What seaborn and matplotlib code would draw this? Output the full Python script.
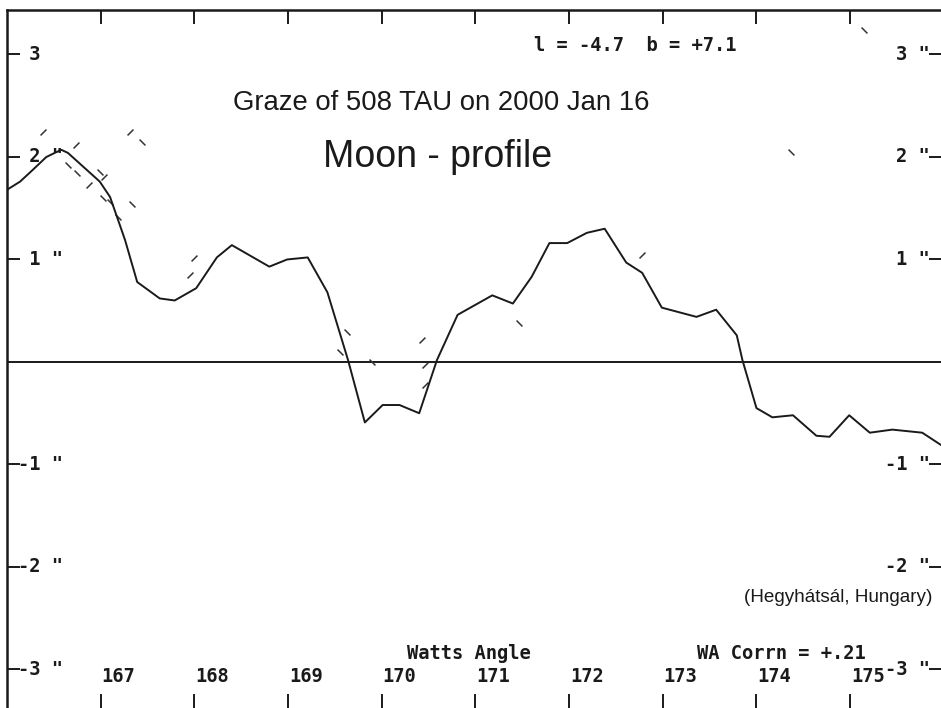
import matplotlib
matplotlib.use("Agg")
import matplotlib.pyplot as plt
import seaborn as sns

# profile of the lunar limb (Watts angle vs height in arcsec)
wa = [166.00, 166.14, 166.27, 166.42, 166.51, 166.58, 166.65, 166.99, 167.10, 167.26,
      167.39, 167.63, 167.79, 168.02, 168.24, 168.40, 168.80, 168.99, 169.21, 169.42,
      169.64, 169.82, 170.01, 170.19, 170.40, 170.59, 170.81, 171.18, 171.40, 171.60,
      171.79, 171.98, 172.19, 172.38, 172.54, 172.61, 172.78, 172.99, 173.36, 173.57,
      173.79, 173.85, 174.00, 174.17, 174.39, 174.64, 174.78, 174.99, 175.21, 175.45,
      175.77, 175.97]
profile = [1.68, 1.76, 1.87, 2.00, 2.04, 2.07, 2.04, 1.76, 1.61, 1.19,
           0.78, 0.62, 0.60, 0.72, 1.02, 1.14, 0.93, 1.00, 1.02, 0.68,
           0.02, -0.59, -0.42, -0.42, -0.50, 0.02, 0.46, 0.65, 0.57, 0.83,
           1.16, 1.16, 1.26, 1.30, 1.07, 0.97, 0.87, 0.53, 0.44, 0.51,
           0.26, 0.02, -0.45, -0.54, -0.52, -0.72, -0.73, -0.52, -0.69, -0.66,
           -0.69, -0.81]

# observer timings, drawn as little dashes
obs_up_wa = [166.38, 167.31, 166.74, 167.04, 166.87, 168.00, 167.95, 170.43, 170.46, 170.46, 172.78]
obs_up_h = [2.24, 2.24, 2.12, 1.80, 1.73, 1.01, 0.85, 0.21, -0.03, -0.22, 1.04]
obs_dn_wa = [167.44, 166.65, 166.75, 166.99, 167.02, 167.10, 167.33, 167.18, 169.63, 169.55,
             169.90, 171.47, 175.15, 174.37]
obs_dn_h = [2.15, 1.92, 1.84, 1.85, 1.60, 1.56, 1.54, 1.41, 0.29, 0.10,
            0.00, 0.38, 3.24, 2.05]

x_ticks = [167, 168, 169, 170, 171, 172, 173, 174, 175]
y_ticks = [3, 2, 1, -1, -2, -3]
left_labels = [' 3', ' 2 "', ' 1 "', '-1 "', '-2 "', '-3 "']
right_labels = ['3 "', '2 "', '1 "', '-1 "', '-2 "', '-3 "']

sns.set_style("white")
plt.rcParams['font.family'] = ['Liberation Sans', 'DejaVu Sans']
ink = '#1a1a1a'
mono = dict(family='DejaVu Sans Mono', fontweight='bold', fontsize=13.5, color=ink)

fig = plt.figure(figsize=(9.41, 7.08), dpi=100)
ax = fig.add_axes([7 / 941, 0, 1 - 7 / 941, 1 - 10 / 708])
ax.set_xlim(166.0, 175.97)
ax.set_ylim(-3.376, 3.434)

ax.axhline(0, color=ink, lw=1.4, zorder=1)
sns.lineplot(x=wa, y=profile, ax=ax, estimator=None, sort=False, color=ink, lw=1.4)
sns.scatterplot(x=obs_up_wa, y=obs_up_h, ax=ax, marker=[(-1, -1), (1, 1)], s=18,
                linewidth=1.1, edgecolor='#333333', color='#333333')
sns.scatterplot(x=obs_dn_wa, y=obs_dn_h, ax=ax, marker=[(-1, 1), (1, -1)], s=18,
                linewidth=1.1, edgecolor='#333333', color='#333333')

# frame and ticks
for side in ['right', 'bottom']:
    ax.spines[side].set_visible(False)
for side in ['left', 'top']:
    ax.spines[side].set_linewidth(1.8)
    ax.spines[side].set_color(ink)
ax.set_xticks(x_ticks)
ax.set_yticks(y_ticks)
ax.tick_params(axis='x', top=True, bottom=True, direction='in', length=10, width=1.4,
               color=ink, labelbottom=False, labeltop=False)
ax.tick_params(axis='y', left=True, right=True, direction='in', length=9, width=1.4,
               color=ink, labelleft=False, labelright=False)
ax.set_xlabel('')
ax.set_ylabel('')

# tick labels written inside the frame
ytr = ax.get_yaxis_transform()
for v, lab in zip(y_ticks, left_labels):
    ax.text(0.0118, v, lab, transform=ytr, ha='left', va='center', **mono)
for v, lab in zip(y_ticks, right_labels):
    ax.text(0.988, v, lab, transform=ytr, ha='right', va='center', **mono)
for v in x_ticks:
    ax.text(v + 0.01, -3.07, str(v), ha='left', va='center', **mono)

ax.text(171.63, 3.09, 'l = -4.7  b = +7.1', ha='left', va='center', **mono)
ax.text(170.27, -2.84, 'Watts Angle', ha='left', va='center', **mono)
ax.text(173.37, -2.84, 'WA Corrn = +.21', ha='left', va='center', **mono)

ax.text(170.64, 2.46, 'Graze of 508 TAU on 2000 Jan 16', ha='center', va='baseline',
        fontsize=19.8, color=ink)
ax.text(170.60, 1.90, 'Moon - profile', ha='center', va='baseline', fontsize=27, color=ink)
ax.text(175.88, -2.30, '(Hegyhátsál, Hungary)', ha='right', va='center', fontsize=13.6, color=ink)

fig.savefig('out.png', dpi=100)
